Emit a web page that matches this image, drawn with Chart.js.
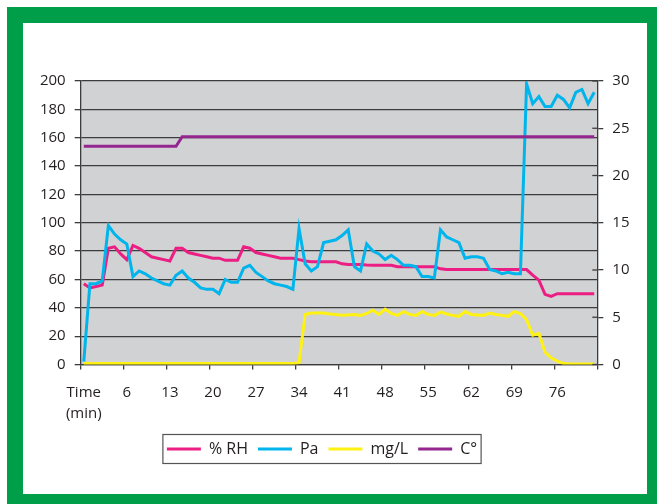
<!DOCTYPE html>
<html>
<head>
<meta charset="utf-8">
<script src="https://cdn.jsdelivr.net/npm/chart.js@4/dist/chart.umd.min.js"></script>
<style>
  html, body { margin: 0; padding: 0; background: #fff; }
  body { width: 657px; height: 504px; position: relative; overflow: hidden; }
  .frame { position: absolute; left: 7px; top: 7px; width: 650px; height: 497px; background: #009e49; }
  .inner { position: absolute; left: 23px; top: 23px; width: 624px; height: 471px; background: #fff; }
  /* canvas is a bit wider on the left so the legend centres where the original does */
  #chart { position: absolute; left: -3px; top: 23px; }
</style>
</head>
<body>
<div class="frame"></div>
<div class="inner"></div>
<canvas id="chart" width="650" height="471"></canvas>
<script>
// --------- data ---------------------------------
const categories = Array.from({ length: 84 }, (_, i) => i); // one slot per minute
const tickLabels = [["Time", "(min)"], "6", "13", "20", "27", "34", "41", "48", "55", "62", "69", "76"];

const rh = [
  57, 54, 55, 56, 82, 83, 78, 74, 84, 82, 79, 76, 75, 74, 73, 82, 82, 79, 78, 77,
  76, 75, 75, 73.5, 73.5, 73.5, 83, 82, 79, 78, 77, 76, 75, 75, 75, 74, 73, 72.5, 72.5, 72.5,
  72.5, 72.5, 71, 70.5, 70.5, 70.5, 70.2, 70, 70, 70, 70, 69, 69, 69, 69, 69, 69, 69, 67.5, 67,
  67, 67, 67, 67, 67, 67, 67, 67, 67, 67, 67, 67, 67, 63, 59.5, 49.5, 48, 50, 50, 50,
  50, 50, 50, 50
];
const pa = [
  2, 57, 57, 59, 98, 92, 88, 85, 62, 66, 64, 61, 59, 57, 56, 63, 66, 61, 58, 54,
  53, 53, 50, 60, 58, 58, 68, 70, 65, 62, 59, 57, 56, 55, 53, 96, 71, 66, 69, 86,
  87, 88, 91, 95, 69, 66, 85, 80, 78, 74, 77, 74, 70, 70, 69, 62, 62, 61, 95, 90,
  88, 86, 75, 76, 76, 75, 67, 66, 64, 65, 64, 64, 198, 184, 189, 182, 182, 190, 187, 181,
  192, 194, 184, 192
];
const mgl = [
  0.1, 0.1, 0.1, 0.1, 0.1, 0.1, 0.1, 0.1, 0.1, 0.1, 0.1, 0.1, 0.1, 0.1, 0.1, 0.1, 0.1, 0.1, 0.1, 0.1,
  0.1, 0.1, 0.1, 0.1, 0.1, 0.1, 0.1, 0.1, 0.1, 0.1, 0.1, 0.1, 0.1, 0.1, 0.1, 0.2, 5.3, 5.45, 5.45, 5.45,
  5.35, 5.3, 5.2, 5.25, 5.3, 5.2, 5.4, 5.75, 5.3, 5.85, 5.4, 5.2, 5.6, 5.3, 5.2, 5.6, 5.3, 5.2, 5.55, 5.35,
  5.2, 5.1, 5.6, 5.3, 5.25, 5.2, 5.45, 5.3, 5.2, 5.1, 5.6, 5.4, 4.75, 3.1, 3.3, 1.3, 0.7, 0.35, 0.1, 0.05,
  0.05, 0.05, 0.05, 0.05
];
const temp = [
  23.1, 23.1, 23.1, 23.1, 23.1, 23.1, 23.1, 23.1, 23.1, 23.1, 23.1, 23.1, 23.1, 23.1, 23.1, 23.1, 24.1, 24.1, 24.1, 24.1,
  24.1, 24.1, 24.1, 24.1, 24.1, 24.1, 24.1, 24.1, 24.1, 24.1, 24.1, 24.1, 24.1, 24.1, 24.1, 24.1, 24.1, 24.1, 24.1, 24.1,
  24.1, 24.1, 24.1, 24.1, 24.1, 24.1, 24.1, 24.1, 24.1, 24.1, 24.1, 24.1, 24.1, 24.1, 24.1, 24.1, 24.1, 24.1, 24.1, 24.1,
  24.1, 24.1, 24.1, 24.1, 24.1, 24.1, 24.1, 24.1, 24.1, 24.1, 24.1, 24.1, 24.1, 24.1, 24.1, 24.1, 24.1, 24.1, 24.1, 24.1,
  24.1, 24.1, 24.1, 24.1
];

const INK = "#231f20";
const GRID = "#3c3c3c";
const FONT = "'Open Sans', 'DejaVu Sans', sans-serif";

// grey plot background
const plotBg = {
  id: "plotBg",
  beforeDraw(chart) {
    const { ctx, chartArea: a } = chart;
    ctx.save();
    ctx.fillStyle = "#d1d2d4";
    ctx.fillRect(a.left, a.top, a.width, a.height);
    ctx.restore();
  }
};

// right axis ticks cross the axis line + box around legend
const extras = {
  id: "extras",
  afterDraw(chart) {
    const { ctx } = chart;
    const y2 = chart.scales.y2;
    ctx.save();
    ctx.strokeStyle = GRID;
    ctx.lineWidth = 1.3;
    y2.ticks.forEach((t, i) => {
      const py = y2.getPixelForTick(i);
      ctx.beginPath();
      ctx.moveTo(y2.left - 5, py);
      ctx.lineTo(y2.left, py);
      ctx.stroke();
    });
    const hb = chart.legend.legendHitBoxes;
    if (hb && hb.length) {
      const first = hb[0], last = hb[hb.length - 1];
      const cy = first.top + first.height / 2;
      ctx.strokeStyle = "#555";
      ctx.lineWidth = 1.2;
      ctx.strokeRect(first.left - 4, cy - 14.5, last.left + last.width - first.left + 8, 29);
    }
    ctx.restore();
  }
};

function line(label, data, color, axis, order) {
  return {
    label, data, yAxisID: axis, order,
    borderColor: color, backgroundColor: color,
    borderWidth: 3, pointRadius: 0, tension: 0, fill: false
  };
}

new Chart(document.getElementById("chart"), {
  type: "line",
  data: {
    labels: categories,
    datasets: [
      line("% RH", rh, "#ec1e83", "y", 4),
      line("Pa", pa, "#00b4ec", "y", 3),
      line("mg/L", mgl, "#fff212", "y2", 2),
      line("C°", temp, "#93278f", "y2", 1)
    ]
  },
  options: {
    responsive: false,
    animation: false,
    layout: { padding: { top: 58, right: 0, bottom: 27, left: 0 } },
    plugins: {
      tooltip: { enabled: false },
      legend: {
        position: "bottom",
        labels: {
          boxWidth: 34, boxHeight: 3, padding: 10,
          color: INK, font: { family: FONT, size: 16 },
          sort: (a, b) => a.datasetIndex - b.datasetIndex,
          generateLabels: chart =>
            Chart.defaults.plugins.legend.labels.generateLabels(chart).map(l => ({ ...l, lineWidth: 0 }))
        }
      }
    },
    scales: {
      x: {
        offset: true,
        afterFit: s => { s.height = 66.5; },
        grid: {
          offset: true, drawOnChartArea: false, tickLength: 5, lineWidth: 1.3,
          color: c => (c.index === undefined || c.index % 7 === 0) ? GRID : "transparent"
        },
        border: { color: GRID, width: 1.3 },
        ticks: {
          autoSkip: false, maxRotation: 0, padding: 13,
          color: INK, font: { family: FONT, size: 15, lineHeight: 1.38 },
          callback: (v, i) => (i % 7 === 0 ? tickLabels[i / 7] : "")
        }
      },
      y: {
        position: "left",
        min: 0, max: 200,
        afterFit: s => { s.width = 83.7; },
        grid: { color: GRID, lineWidth: 1.3, tickLength: 6 },
        border: { color: GRID, width: 1.3 },
        ticks: { stepSize: 20, padding: 9, color: INK, font: { family: FONT, size: 15 } }
      },
      y2: {
        position: "right",
        min: 0, max: 30,
        afterFit: s => { s.width = 49.7; },
        grid: { drawOnChartArea: false, color: GRID, lineWidth: 1.3, tickLength: 6 },
        border: { color: GRID, width: 1.3 },
        ticks: { stepSize: 5, padding: 9, color: INK, font: { family: FONT, size: 15 } }
      }
    }
  },
  plugins: [plotBg, extras]
});
</script>
</body>
</html>
